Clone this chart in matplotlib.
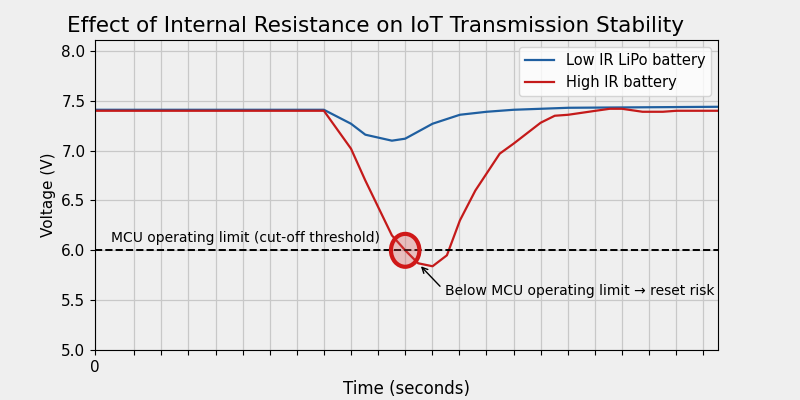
import matplotlib
matplotlib.use("Agg")
import matplotlib.pyplot as plt
from matplotlib.patches import Ellipse

low_x = [0, 8.44, 9.44, 9.97, 10.95, 11.44, 12.45, 13.46, 14.45, 15.44, 17.46, 23.0]
low_y = [7.41, 7.41, 7.27, 7.16, 7.10, 7.12, 7.27, 7.36, 7.39, 7.41, 7.43, 7.44]
high_x = [0, 8.44, 9.44, 9.97, 10.95, 11.44, 11.92, 12.45, 12.98, 13.46, 14.03, 14.93, 15.44,
          16.44, 16.96, 17.46, 18.47, 18.99, 19.44, 20.2, 20.95, 21.46, 23.0]
high_y = [7.40, 7.40, 7.02, 6.70, 6.15, 6.0, 5.87, 5.84, 5.95, 6.30, 6.60, 6.97, 7.07,
          7.28, 7.35, 7.36, 7.40, 7.42, 7.42, 7.39, 7.39, 7.40, 7.40]
threshold = 6.0

bg = "#efefef"
fig = plt.figure(figsize=(8, 4), dpi=100, facecolor=bg)
ax = fig.add_axes([0.119, 0.125, 0.779, 0.775], facecolor=bg)
ax.plot(low_x, low_y, color="#1f5fa0", lw=1.6, label="Low IR LiPo battery")
ax.plot(high_x, high_y, color="#c41a1a", lw=1.6, label="High IR battery")
ax.axhline(threshold, color="black", ls="--", lw=1.4)
ax.text(0.6, 6.05, "MCU operating limit (cut-off threshold)", fontsize=10, va="bottom")
ax.add_patch(Ellipse((11.44, 6.0), 1.05, 0.33, facecolor=(0.85, 0.3, 0.3, 0.3),
                     edgecolor="#d01818", lw=3, zorder=5))
ax.annotate("Below MCU operating limit → reset risk", xy=(11.95, 5.86), xytext=(12.9, 5.59),
            fontsize=10, va="center",
            arrowprops=dict(arrowstyle="->", color="black", lw=1, relpos=(0, 0.5), shrinkA=2))
ax.set_xlim(0, 23)
ax.set_ylim(5.0, 8.11)
ticks = [0] + [1.44 + k for k in range(22)]
ax.set_xticks(ticks)
ax.set_xticklabels(["0"] + [""] * 22)
ax.set_yticks([5.0, 5.5, 6.0, 6.5, 7.0, 7.5, 8.0])
ax.grid(True, color="#c8c8c8", lw=0.9)
ax.tick_params(labelsize=11)
ax.set_xlabel("Time (seconds)", fontsize=12)
ax.set_ylabel("Voltage (V)", fontsize=11)
ax.set_title("Effect of Internal Resistance on IoT Transmission Stability", fontsize=15.5, loc="left", x=-0.045)
ax.legend(loc="upper right", fontsize=10.5, facecolor="white")
fig.savefig("out.png", dpi=100, facecolor=bg)
